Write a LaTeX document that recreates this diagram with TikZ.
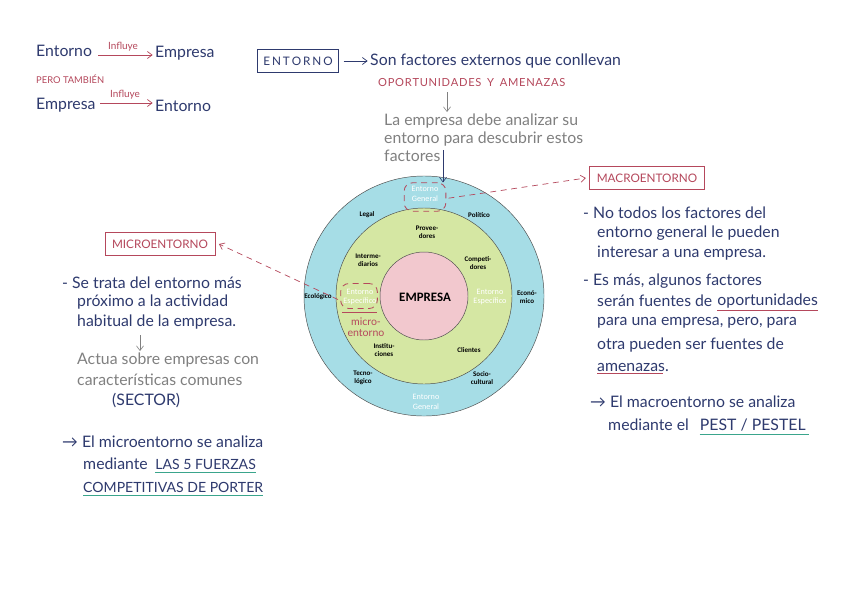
\documentclass[tikz,border=0pt]{standalone}
\usepackage{fontspec}
\setmainfont{Lato}
\newfontfamily\calib{Carlito}
\usetikzlibrary{arrows.meta,shapes.geometric}
\definecolor{ink}{HTML}{2E3A6E}
\definecolor{redink}{HTML}{B5485C}
\definecolor{grayink}{HTML}{808080}
\definecolor{tealine}{HTML}{3AA58C}
\definecolor{outerblue}{HTML}{A6DDE6}
\definecolor{midgreen}{HTML}{D5E7A3}
\definecolor{innerpink}{HTML}{F2C8CE}
\tikzset{
  hand/.style={anchor=west,inner sep=0pt,text=ink,font=\fontsize{13.5}{15}\selectfont},
  handred/.style={hand,text=redink,font=\fontsize{9}{11}\selectfont},
  handgray/.style={hand,text=grayink},
  arr/.style={-{Straight Barb[length=4pt,width=6pt]},line width=0.6pt},
  lab/.style={font=\calib\bfseries\fontsize{6}{7}\selectfont,align=center,inner sep=0pt,text=black},
  wlab/.style={font=\calib\fontsize{7}{8}\selectfont,align=center,inner sep=0pt,text=white},
  boxb/.style={draw=ink,line width=0.7pt,inner xsep=5pt,inner ysep=6pt},
  boxr/.style={draw=redink,line width=0.7pt,inner xsep=6pt,inner ysep=6pt},
  dsh/.style={draw=redink,dashed,dash pattern=on 5pt off 4pt,line width=0.7pt},
  uline/.style={line width=0.8pt}
}
\begin{document}
\begin{tikzpicture}[x=0.03cm,y=-0.03cm]
\useasboundingbox[fill=white] (0,0) rectangle (848,613);

% ---------- top left
\node[hand] (e1) at (36,51) {Entorno};
\node[hand] (p1) at (155,53) {Empresa};
\coordinate (a1s) at (98,55);
\draw[arr,redink] (a1s) -- ([xshift=-2pt]a1s -| p1.west);
\node[handred,anchor=south,font=\fontsize{8.5}{9}\selectfont] (inf1) at (123,51) {Influye};
\node[handred,font=\fontsize{8}{9}\selectfont] (pero) at (36,79) {PERO TAMBIÉN};
\node[hand] (p2) at (36,105) {Empresa};
\node[hand] (e2) at (155,106) {Entorno};
\coordinate (a2s) at (100,103);
\draw[arr,redink] (a2s) -- ([xshift=-2pt]a2s -| e2.west);
\node[handred,anchor=south,font=\fontsize{8.5}{9}\selectfont] (inf2) at (125,99) {Influye};

% ---------- top middle
\node[hand,boxb,anchor=center,font=\fontsize{10}{11}\selectfont] (ent) at (298,61) {E\,N\,T\,O\,R\,N\,O};
\node[hand] (son) at (370,61) {Son factores externos que conllevan};
\draw[arr,ink] (ent.east) ++(4pt,0) -- ([xshift=-2pt]son.west);
\node[handred,font=\fontsize{9.5}{10}\selectfont] (opo) at (378,83) {O\kern0.6pt P\kern0.6pt O\kern0.6pt R\kern0.6pt T\kern0.6pt U\kern0.6pt N\kern0.6pt I\kern0.6pt D\kern0.6pt A\kern0.6pt D\kern0.6pt E\kern0.6pt S \ Y \ A\kern0.6pt M\kern0.6pt E\kern0.6pt N\kern0.6pt A\kern0.6pt Z\kern0.6pt A\kern0.6pt S};
\node[handgray] (la1) at (384,121) {La empresa debe analizar su};
\node[handgray] (la2) at (384,139) {entorno para descubrir estos};
\node[handgray] (la3) at (384,156) {factores};
\draw[arr,grayink,line width=0.5pt] (447,92) -- (447,112);

% ---------- circle
\coordinate (c) at (424,296);
\fill[outerblue] (c) circle[radius=3.6cm];
\draw[black!70,line width=0.4pt] (c) circle[radius=3.6cm];
\fill[midgreen] (c) circle[radius=2.64cm];
\draw[black!70,line width=0.4pt] (c) circle[radius=2.64cm];
\fill[innerpink] (c) circle[radius=1.32cm];
\draw[black!70,line width=0.4pt] (c) circle[radius=1.32cm];

\node[font=\calib\bfseries\fontsize{11}{12}\selectfont] (emp) at (425,297) {EMPRESA};
\node[wlab] (eg1) at (425,194) {Entorno\\General};
\node[wlab] (eg2) at (426,402) {Entorno\\General};
\node[wlab] (ees1) at (360,297) {Entorno\\Específico};
\node[wlab] (ees2) at (490,297) {Entorno\\Específico};
\node[lab] (legal) at (367,215) {Legal};
\node[lab] (poli) at (479,215) {Político};
\node[lab] (prov) at (427,232) {Provee-\\dores};
\node[lab] (inter) at (368,260) {Interme-\\diarios};
\node[lab] (comp) at (478,263) {Competi-\\dores};
\node[lab] (eco) at (318,297) {Ecológico};
\node[lab] (econ) at (527,297) {Econó-\\mico};
\node[lab] (inst) at (384,350) {Institu-\\ciones};
\node[lab] (cli) at (469,350) {Clientes};
\node[lab] (tec) at (363,378) {Tecno-\\lógico};
\node[lab] (soc) at (482,378) {Socio-\\cultural};
\node[handred,anchor=center,align=center,font=\fontsize{9}{9.5}\selectfont] (micro) at (366,327) {micro-\\entorno};
\draw[redink,line width=0.7pt] (342,312) -- (377,312);

% dashed highlight shapes
\node[dsh,rectangle,rounded corners=7pt,inner sep=0pt] (hl1) at (425,197) {\phantom{\rule{1.25cm}{0.85cm}}};
\node[dsh,rectangle,rounded corners=7pt,inner sep=0pt] (hl2) at (359,296) {\phantom{\rule{1.1cm}{0.75cm}}};

% connector from text to circle
\coordinate (fq) at (443,150);
\draw[arr,ink,line width=0.5pt] (fq) -- (fq |- hl1.north);

% ---------- macroentorno (right)
\node[hand,boxr,anchor=center,text=redink,font=\fontsize{10}{11}\selectfont] (mac) at (647,178) {MACROENTORNO};
\draw[dsh,arr] (hl1.east) ++(2pt,-1pt) -- ([xshift=-3pt]mac.west);
\node[hand] (r1) at (583,213) {- No todos los factores del};
\node[hand] (r2) at (597,233) {entorno general le pueden};
\node[hand] (r3) at (597,253) {interesar a una empresa.};
\node[hand] (r4) at (583,281) {- Es más, algunos factores};
\node[hand] (r5) at (597,301) {serán fuentes de};
\node[hand] (r5b) at (r5.east) [xshift=4pt] {oportunidades};
\draw[uline,redink] ([yshift=-2pt]r5b.south west) -- ([yshift=-2pt]r5b.south east);
\node[hand] (r6) at (597,323) {para una empresa, pero, para};
\node[hand] (r7) at (597,345) {otra pueden ser fuentes de};
\node[hand] (r8) at (597,367) {amenazas.};
\draw[uline,redink] ([yshift=-2pt]r8.south west) -- ([yshift=-2pt,xshift=-5pt]r8.south east);
\node[hand] (r9) at (590,402) {→ El macroentorno se analiza};
\node[hand] (r10) at (608,425) {mediante el};
\node[hand] (r10b) at (r10.east) [xshift=9pt] {PEST / PESTEL};
\draw[uline,tealine] ([yshift=-3pt]r10b.south west) -- ([yshift=-3pt,xshift=3pt]r10b.south east);

% ---------- microentorno (left)
\node[hand,boxr,anchor=center,text=redink,font=\fontsize{10}{11}\selectfont] (mic) at (160,244) {MICROENTORNO};
\draw[dsh,arr] (hl2.west) ++(-2pt,-3pt) -- ([xshift=3pt]mic.east);
\node[hand] (l1) at (62,283) {- Se trata del entorno más};
\node[hand] (l2) at (77,302) {próximo a la actividad};
\node[hand] (l3) at (77,322) {habitual de la empresa.};
\draw[arr,grayink,line width=0.5pt] (140,335) -- (140,351);
\node[handgray] (l4) at (77,360) {Actua sobre empresas con};
\node[handgray] (l5) at (77,380) {características comunes};
\node[hand] (l6) at (112,401) {(SECTOR)};
\node[hand] (l7) at (62,442) {→ El microentorno se analiza};
\node[hand] (l8) at (83,464) {mediante};
\node[hand,font=\fontsize{12}{14}\selectfont] (l8b) at (l8.east) [xshift=6pt] {LAS 5 FUERZAS};
\draw[uline,tealine] ([yshift=-3pt]l8b.south west) -- ([yshift=-3pt]l8b.south east);
\node[hand,font=\fontsize{12}{14}\selectfont] (l9) at (83,487) {COMPETITIVAS DE PORTER};
\draw[uline,tealine] ([yshift=-3pt]l9.south west) -- ([yshift=-3pt]l9.south east);
\end{tikzpicture}
\end{document}
